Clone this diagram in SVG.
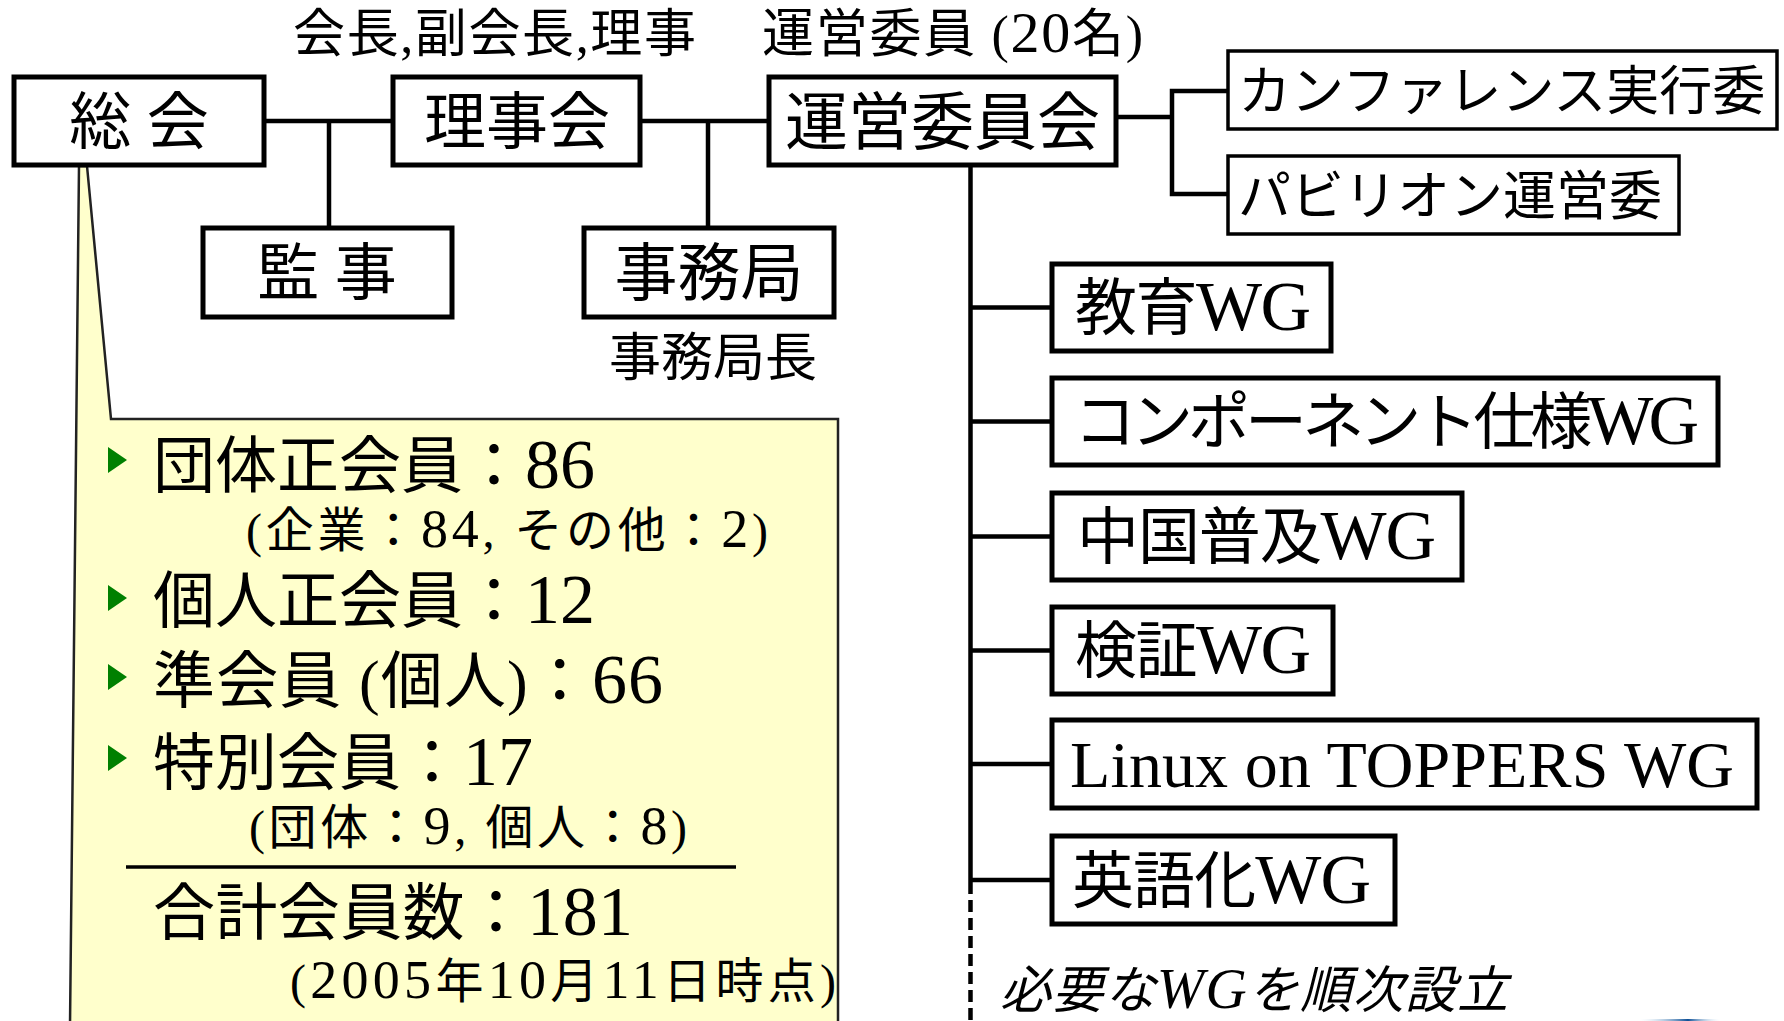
<svg xmlns="http://www.w3.org/2000/svg" width="1784" height="1021" viewBox="0 0 1784 1021">
<defs>
<style>
.box{fill:#fff;stroke:#000;stroke-width:5}
.box2{fill:#fff;stroke:#000;stroke-width:3.5}
.conn{stroke:#000;stroke-width:4.5;fill:none}
.t{font-family:"Liberation Serif","Noto Sans CJK JP",serif;fill:#000}
.bul{fill:#008000}
.num{font-size:70px}
.snum{font-size:54px}
.wg{font-size:70px}
</style>
<linearGradient id="blue" x1="0" x2="1" y1="0" y2="0">
<stop offset="0" stop-color="#cfe8f7" stop-opacity="0"/>
<stop offset="0.6" stop-color="#0d4f96"/>
<stop offset="1" stop-color="#cfe8f7" stop-opacity="0"/>
</linearGradient>
</defs>
<rect width="1784" height="1021" fill="#fff"/>

<g id="callout">
<polygon points="79,166 87,166 111,419 838,419 838,1026 70,1026" fill="#FFFFCC" stroke="#222" stroke-width="2.5"/>
<polygon class="bul" points="108,447 127,460 108,473"/>
<text class="t" x="153" y="488" font-size="62">団体正会員：<tspan class="num">86</tspan></text>
<text class="t" x="246" y="547" font-size="48" textLength="522" lengthAdjust="spacing">(企業：<tspan class="snum">84</tspan>, その他：<tspan class="snum">2</tspan>)</text>
<polygon class="bul" points="108,585 127,598 108,611"/>
<text class="t" x="153" y="623" font-size="62">個人正会員：<tspan class="num">12</tspan></text>
<polygon class="bul" points="108,664 127,677 108,690"/>
<text class="t" x="153" y="703" font-size="62" textLength="510" lengthAdjust="spacing">準会員 (個人)：<tspan class="num">66</tspan></text>
<polygon class="bul" points="108,745 127,758 108,771"/>
<text class="t" x="153" y="785" font-size="62">特別会員：<tspan class="num">17</tspan></text>
<text class="t" x="249" y="844" font-size="48" textLength="438" lengthAdjust="spacing">(団体：<tspan class="snum">9</tspan>, 個人：<tspan class="snum">8</tspan>)</text>
<line x1="126" y1="867" x2="736" y2="867" stroke="#000" stroke-width="3.5"/>
<text class="t" x="153" y="935" font-size="62" textLength="480" lengthAdjust="spacing">合計会員数：<tspan class="num">181</tspan></text>
<text class="t" x="290" y="998" font-size="48" textLength="546" lengthAdjust="spacing">(<tspan class="snum">2005</tspan>年<tspan class="snum">10</tspan>月<tspan class="snum">11</tspan>日時点)</text>
</g>

<g id="connectors">
<line class="conn" x1="264" y1="121" x2="393" y2="121"/>
<line class="conn" x1="329" y1="121" x2="329" y2="228"/>
<line class="conn" x1="640" y1="121" x2="769" y2="121"/>
<line class="conn" x1="708" y1="121" x2="708" y2="228"/>
<polyline class="conn" points="1116,117 1172,117"/>
<polyline class="conn" points="1228,91 1172,91 1172,194 1228,194"/>
<line class="conn" x1="970.5" y1="166" x2="970.5" y2="882"/>
<line class="conn" x1="970.5" y1="882" x2="970.5" y2="1021" stroke-dasharray="12,6"/>
<line class="conn" x1="970.5" y1="307.5" x2="1052" y2="307.5"/>
<line class="conn" x1="970.5" y1="421.5" x2="1052" y2="421.5"/>
<line class="conn" x1="970.5" y1="536.5" x2="1052" y2="536.5"/>
<line class="conn" x1="970.5" y1="650.5" x2="1052" y2="650.5"/>
<line class="conn" x1="970.5" y1="764" x2="1052" y2="764"/>
<line class="conn" x1="970.5" y1="880" x2="1052" y2="880"/>
</g>

<g id="labels">
<text class="t" x="293" y="52" font-size="52" textLength="403" lengthAdjust="spacing">会長,副会長,理事</text>
<text class="t" x="762" y="52" font-size="52" textLength="381" lengthAdjust="spacing">運営委員 (<tspan font-size="58">20</tspan>名)</text>
<text class="t" x="609" y="376" font-size="52">事務局長</text>
<text class="t" x="1000" y="1008" font-size="51" font-style="italic" textLength="508" lengthAdjust="spacing">必要な<tspan font-size="57">WG</tspan>を順次設立</text>
</g>

<g id="n-soukai">
<rect class="box" x="14" y="77" width="250" height="88"/>
<text class="t" x="139" y="144" font-size="62" text-anchor="middle">総 会</text>
</g>
<g id="n-rijikai">
<rect class="box" x="393" y="77" width="247" height="88"/>
<text class="t" x="517" y="144" font-size="62" text-anchor="middle">理事会</text>
</g>
<g id="n-kanji">
<rect class="box" x="203" y="228" width="249" height="89"/>
<text class="t" x="327" y="295" font-size="62" text-anchor="middle">監 事</text>
</g>
<g id="n-jimukyoku">
<rect class="box" x="584" y="228" width="250" height="89"/>
<text class="t" x="709" y="295" font-size="63" text-anchor="middle">事務局</text>
</g>
<g id="n-unei">
<rect class="box" x="769" y="77" width="347" height="88"/>
<text class="t" x="942.5" y="144" font-size="63" text-anchor="middle">運営委員会</text>
</g>
<g id="n-conference">
<rect class="box2" x="1228" y="51" width="549" height="78"/>
<text class="t" x="1238" y="110" font-size="53">カンファレンス実行委</text>
</g>
<g id="n-pavilion">
<rect class="box2" x="1228" y="156" width="451" height="78"/>
<text class="t" x="1238" y="215" font-size="53">パビリオン運営委</text>
</g>
<g id="n-kyoiku">
<rect class="box" x="1052" y="264" width="279" height="87"/>
<text class="t" x="1075" y="330" font-size="62" textLength="236" lengthAdjust="spacing">教育<tspan class="wg">WG</tspan></text>
</g>
<g id="n-component">
<rect class="box" x="1052" y="378" width="666" height="87"/>
<text class="t" x="1074" y="444" font-size="62" textLength="625" lengthAdjust="spacing">コンポーネント仕様<tspan class="wg">WG</tspan></text>
</g>
<g id="n-china">
<rect class="box" x="1052" y="493" width="410" height="87"/>
<text class="t" x="1077" y="559" font-size="62" textLength="359" lengthAdjust="spacing">中国普及<tspan class="wg">WG</tspan></text>
</g>
<g id="n-kensho">
<rect class="box" x="1052" y="607" width="281" height="87"/>
<text class="t" x="1075" y="673" font-size="62" textLength="236" lengthAdjust="spacing">検証<tspan class="wg">WG</tspan></text>
</g>
<g id="n-linux">
<rect class="box" x="1052" y="720" width="705" height="88"/>
<text class="t" x="1070" y="787" font-size="66" textLength="664" lengthAdjust="spacing">Linux on TOPPERS WG</text>
</g>
<g id="n-english">
<rect class="box" x="1052" y="836" width="343" height="88"/>
<text class="t" x="1072" y="903" font-size="62" textLength="299" lengthAdjust="spacing">英語化<tspan class="wg">WG</tspan></text>
</g>

<rect x="1640" y="1019" width="80" height="2" fill="url(#blue)"/>
</svg>
